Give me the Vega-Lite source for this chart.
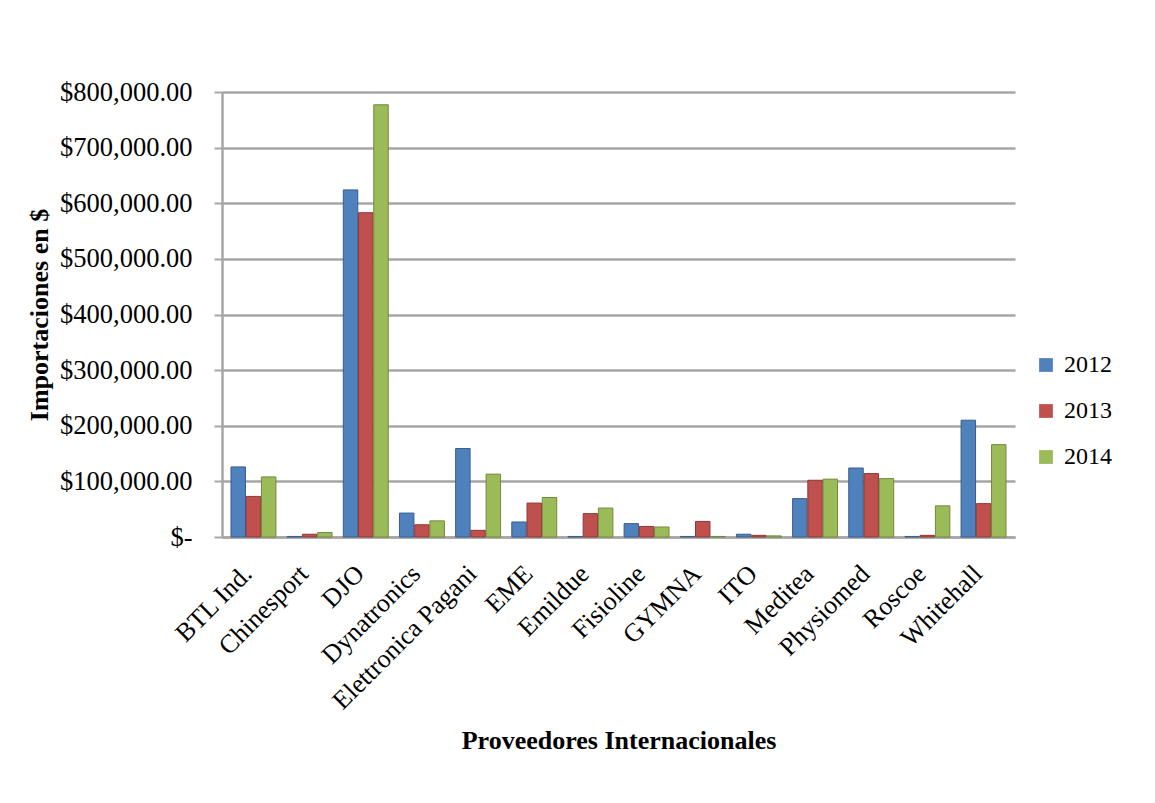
{
  "$schema": "https://vega.github.io/schema/vega-lite/v6.json",
  "autosize": {"type": "none"},
  "width": 793,
  "height": 445,
  "padding": {"left": 222, "top": 92, "right": 140, "bottom": 266},
  "background": "white",
  "config": {
    "font": "Liberation Serif",
    "view": {"stroke": null}
  },
  "data": {
    "values": [
      {"proveedor": "BTL Ind.", "year": "2012", "value": 126000},
      {"proveedor": "BTL Ind.", "year": "2013", "value": 73000},
      {"proveedor": "BTL Ind.", "year": "2014", "value": 108000},
      {"proveedor": "Chinesport", "year": "2012", "value": 1000},
      {"proveedor": "Chinesport", "year": "2013", "value": 5000},
      {"proveedor": "Chinesport", "year": "2014", "value": 8000},
      {"proveedor": "DJO", "year": "2012", "value": 624000},
      {"proveedor": "DJO", "year": "2013", "value": 583000},
      {"proveedor": "DJO", "year": "2014", "value": 777000},
      {"proveedor": "Dynatronics", "year": "2012", "value": 43000},
      {"proveedor": "Dynatronics", "year": "2013", "value": 22000},
      {"proveedor": "Dynatronics", "year": "2014", "value": 29000},
      {"proveedor": "Elettronica Pagani", "year": "2012", "value": 159000},
      {"proveedor": "Elettronica Pagani", "year": "2013", "value": 12000},
      {"proveedor": "Elettronica Pagani", "year": "2014", "value": 113000},
      {"proveedor": "EME", "year": "2012", "value": 27000},
      {"proveedor": "EME", "year": "2013", "value": 61000},
      {"proveedor": "EME", "year": "2014", "value": 71000},
      {"proveedor": "Emildue", "year": "2012", "value": 1000},
      {"proveedor": "Emildue", "year": "2013", "value": 42000},
      {"proveedor": "Emildue", "year": "2014", "value": 52000},
      {"proveedor": "Fisioline", "year": "2012", "value": 24000},
      {"proveedor": "Fisioline", "year": "2013", "value": 19000},
      {"proveedor": "Fisioline", "year": "2014", "value": 18000},
      {"proveedor": "GYMNA", "year": "2012", "value": 1000},
      {"proveedor": "GYMNA", "year": "2013", "value": 28000},
      {"proveedor": "GYMNA", "year": "2014", "value": 1000},
      {"proveedor": "ITO", "year": "2012", "value": 5000},
      {"proveedor": "ITO", "year": "2013", "value": 3000},
      {"proveedor": "ITO", "year": "2014", "value": 2000},
      {"proveedor": "Meditea", "year": "2012", "value": 69000},
      {"proveedor": "Meditea", "year": "2013", "value": 102000},
      {"proveedor": "Meditea", "year": "2014", "value": 104000},
      {"proveedor": "Physiomed", "year": "2012", "value": 124000},
      {"proveedor": "Physiomed", "year": "2013", "value": 114000},
      {"proveedor": "Physiomed", "year": "2014", "value": 105000},
      {"proveedor": "Roscoe", "year": "2012", "value": 1000},
      {"proveedor": "Roscoe", "year": "2013", "value": 3000},
      {"proveedor": "Roscoe", "year": "2014", "value": 56000},
      {"proveedor": "Whitehall", "year": "2012", "value": 210000},
      {"proveedor": "Whitehall", "year": "2013", "value": 60000},
      {"proveedor": "Whitehall", "year": "2014", "value": 166000}
    ]
  },
  "mark": {"type": "bar", "strokeWidth": 1},
  "encoding": {
    "x": {
      "field": "proveedor",
      "type": "nominal",
      "sort": null,
      "scale": {"paddingInner": 0.2, "paddingOuter": 0.16},
      "axis": {
        "title": "Proveedores Internacionales",
        "titleFont": "Liberation Serif",
        "titleFontSize": 26,
        "titleFontWeight": "bold",
        "titleColor": "black",
        "titlePadding": 14,
        "labelAngle": -45,
        "labelAlign": "right",
        "labelBaseline": "alphabetic",
        "labelFont": "Liberation Serif",
        "labelFontSize": 26,
        "labelColor": "black",
        "labelPadding": 38,
        "labelLimit": 0,
        "labelOverlap": false,
        "domainColor": "#a6a6a6",
        "domainWidth": 2.5,
        "ticks": false
      }
    },
    "xOffset": {"field": "year", "type": "nominal", "scale": {"paddingInner": 0.05}},
    "y": {
      "field": "value",
      "type": "quantitative",
      "scale": {"domain": [0, 800000]},
      "axis": {
        "title": "Importaciones en $",
        "titleFont": "Liberation Serif",
        "titleFontSize": 26,
        "titleFontWeight": "bold",
        "titleColor": "black",
        "titlePadding": 1,
        "titleX": -170,
        "titleBaseline": "bottom",
        "values": [0, 100000, 200000, 300000, 400000, 500000, 600000, 700000, 800000],
        "labelExpr": "datum.value == 0 ? '$-' : '$' + format(datum.value, ',.2f')",
        "labelFont": "Liberation Serif",
        "labelFontSize": 26.5,
        "labelColor": "black",
        "labelPadding": 22,
        "tickSize": 8,
        "tickColor": "#a6a6a6",
        "tickWidth": 2,
        "domainColor": "#a6a6a6",
        "domainWidth": 2.5,
        "gridColor": "#a6a6a6",
        "gridWidth": 2.5
      }
    },
    "color": {
      "field": "year",
      "type": "nominal",
      "scale": {"domain": ["2012", "2013", "2014"], "range": ["#4F81BD", "#C0504D", "#9BBB59"]},
      "legend": {
        "title": null,
        "orient": "none",
        "legendX": 812,
        "legendY": 261,
        "symbolType": "square",
        "symbolSize": 190,
        "symbolStrokeWidth": 0,
        "labelFont": "Liberation Serif",
        "labelFontSize": 24,
        "labelColor": "black",
        "labelOffset": 6,
        "rowPadding": 22
      }
    },
    "stroke": {
      "field": "year",
      "type": "nominal",
      "scale": {"domain": ["2012", "2013", "2014"], "range": ["#385D8A", "#8C3836", "#71893F"]},
      "legend": null
    }
  }
}
